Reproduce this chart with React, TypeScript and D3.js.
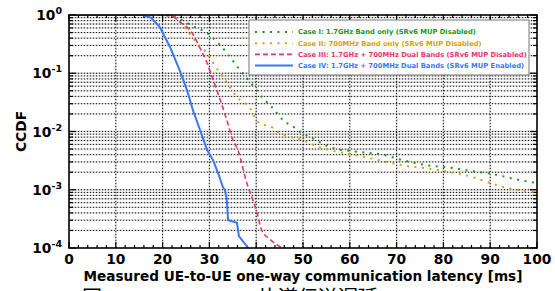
import * as React from "react";
import * as d3 from "d3";

// CCDF of one-way latency
const caseI_ms = [0, 20, 22.5, 24.8, 26.9, 29.5, 31.9, 33.8, 36.5, 38.3, 39.7, 41.5, 43.4, 45.7, 48.3, 49.8, 51.5, 56, 61.5, 67, 71.4, 77, 81.4, 85.7, 90, 95.7, 100];
const caseI_p = [1, 1, 0.95, 0.76, 0.62, 0.49, 0.33, 0.22, 0.114, 0.077, 0.056, 0.037, 0.026, 0.0158, 0.0115, 0.0094, 0.0081, 0.0053, 0.0045, 0.004, 0.0032, 0.0026, 0.0024, 0.0021, 0.0019, 0.0015, 0.0013];

const caseII_ms = [0, 20, 22.5, 24.8, 26.3, 27.3, 29.5, 30.8, 33.8, 35.9, 38.7, 40.4, 43.6, 45, 50, 53.4, 58.5, 63.6, 67.1, 72.9, 77.1, 81.4, 85.7, 90, 94.2, 98.5, 100];
const caseII_p = [1, 1, 0.92, 0.6, 0.42, 0.33, 0.22, 0.15, 0.068, 0.039, 0.025, 0.0145, 0.0115, 0.0094, 0.0071, 0.0054, 0.0043, 0.0036, 0.0031, 0.0025, 0.0023, 0.002, 0.0017, 0.0013, 0.00105, 0.00092, 0.00088];

const caseIII_ms = [0, 20, 22, 23.7, 26.3, 28, 29.5, 30.8, 32.3, 33.7, 35, 36.1, 38, 39.3, 40, 41.2, 43, 45.5];
const caseIII_p = [1, 1, 0.95, 0.76, 0.49, 0.27, 0.15, 0.077, 0.035, 0.016, 0.0072, 0.0048, 0.0013, 0.00066, 0.00045, 0.0002, 0.00014, 0.0001];

const caseIV_ms = [0, 15.8, 17.5, 19.4, 21.6, 23.7, 25.2, 26.5, 28, 29.5, 30.8, 31.9, 32.9, 33.3, 33.7, 34, 35.9, 36.3, 38.3];
const caseIV_p = [1, 1, 0.9, 0.62, 0.28, 0.11, 0.052, 0.023, 0.0106, 0.0048, 0.0032, 0.0019, 0.0011, 0.001, 0.0007, 0.0003, 0.00027, 0.00016, 0.0001];

const seriesNames = [
  "Case I: 1.7GHz Band only (SRv6 MUP Disabled)",
  "Case II: 700MHz Band only (SRv6 MUP Disabled)",
  "Case III: 1.7GHz + 700MHz Dual Bands (SRv6 MUP Disabled)",
  "Case IV: 1.7GHz + 700MHz Dual Bands (SRv6 MUP Enabled)",
];

const xTicks = [0, 10, 20, 30, 40, 50, 60, 70, 80, 90, 100];
const yExponents = [0, -1, -2, -3, -4];

const W = 555;
const H = 291;
const margin = { top: 15, right: 18, bottom: 43, left: 69 };
const FONT = "'DejaVu Sans', Verdana, sans-serif";

export default function App() {
  const x = d3.scaleLinear().domain([0, 100]).range([margin.left, W - margin.right]);
  const y = d3.scaleLog().domain([1e-4, 1]).range([H - margin.bottom, margin.top]);
  const x0 = x(0), x1 = x(100), y0 = y(1e-4), y1 = y(1);

  const styles = [
    { color: "#1e961e", width: 2, dash: "2,5.5" },
    { color: "#d4a20c", width: 2, dash: "2,5.5" },
    { color: "#e8336d", width: 1.6, dash: "5,3" },
    { color: "#3a78f2", width: 2, dash: "none" },
  ];

  const series = [
    { ms: caseI_ms, p: caseI_p, curve: d3.curveMonotoneX },
    { ms: caseII_ms, p: caseII_p, curve: d3.curveMonotoneX },
    { ms: caseIII_ms, p: caseIII_p, curve: d3.curveMonotoneX },
    { ms: caseIV_ms, p: caseIV_p, curve: d3.curveLinear },
  ];

  const paths = series.map((s) =>
    d3
      .line<number>()
      .x((d) => x(d))
      .y((_, i) => y(s.p[i]))
      .curve(s.curve)(s.ms) || ""
  );

  // log minor positions
  const hLines: number[] = [];
  const yMinor: number[] = [];
  for (let e = -4; e < 0; e++) {
    for (let k = 1; k <= 9; k++) {
      const v = k * Math.pow(10, e);
      if (k === 1 && e === -4) continue;
      hLines.push(v);
      if (k > 1) yMinor.push(v);
    }
  }
  const xMinor = d3.range(2, 100, 2).filter((v) => v % 10 !== 0);
  const vLines = xTicks.slice(1, -1);

  const legX = 249, legY = 20, legW = 280, legH = 55;

  return (
    <svg width={W} height={H} style={{ position: "absolute", left: 0, top: 0, background: "#fff" }}>
      <defs>
        <clipPath id="plot">
          <rect x={x0} y={y1} width={x1 - x0} height={y0 - y1} />
        </clipPath>
      </defs>
      <rect x={0} y={0} width={W} height={H} fill="#fff" />

      {/* grid: light gray solid with black dots on top */}
      <g>
        {vLines.map((v) => (
          <line key={"vg" + v} x1={x(v)} x2={x(v)} y1={y1} y2={y0} stroke="#c8c8c8" strokeWidth={1.3} />
        ))}
        {hLines.map((v) => (
          <line key={"hg" + v} x1={x0} x2={x1} y1={y(v)} y2={y(v)} stroke="#c8c8c8" strokeWidth={1.3} />
        ))}
        {vLines.map((v) => (
          <line key={"vd" + v} x1={x(v)} x2={x(v)} y1={y1} y2={y0} stroke="#000" strokeWidth={0.9} strokeDasharray="1,2" />
        ))}
        {hLines.map((v) => (
          <line key={"hd" + v} x1={x0} x2={x1} y1={y(v)} y2={y(v)} stroke="#000" strokeWidth={0.9} strokeDasharray="1,2" />
        ))}
      </g>

      {/* ticks */}
      <g stroke="#000" strokeWidth={1.2}>
        {xTicks.map((v) => (
          <g key={"xt" + v}>
            <line x1={x(v)} x2={x(v)} y1={y0} y2={y0 - 6} />
            <line x1={x(v)} x2={x(v)} y1={y1} y2={y1 + 6} />
          </g>
        ))}
        {xMinor.map((v) => (
          <g key={"xm" + v}>
            <line x1={x(v)} x2={x(v)} y1={y0} y2={y0 - 3} />
            <line x1={x(v)} x2={x(v)} y1={y1} y2={y1 + 3} />
          </g>
        ))}
        {yMinor.map((v) => (
          <g key={"ym" + v}>
            <line x1={x0} x2={x0 + 4} y1={y(v)} y2={y(v)} />
            <line x1={x1} x2={x1 - 4} y1={y(v)} y2={y(v)} />
          </g>
        ))}
        {yExponents.map((e) => (
          <g key={"yt" + e}>
            <line x1={x0} x2={x0 + 7} y1={y(Math.pow(10, e))} y2={y(Math.pow(10, e))} />
            <line x1={x1} x2={x1 - 7} y1={y(Math.pow(10, e))} y2={y(Math.pow(10, e))} />
          </g>
        ))}
      </g>

      {/* curves */}
      <g clipPath="url(#plot)">
        {paths.map((d, i) => (
          <path
            key={"s" + i}
            d={d}
            fill="none"
            stroke={styles[i].color}
            strokeWidth={styles[i].width}
            strokeDasharray={styles[i].dash}
          />
        ))}
      </g>

      {/* frame */}
      <rect x={x0} y={y1} width={x1 - x0} height={y0 - y1} fill="none" stroke="#000" strokeWidth={1.6} />

      {/* legend */}
      <rect x={legX} y={legY} width={legW} height={legH} fill="#fff" stroke="#777" strokeWidth={1} />
      {seriesNames.map((name, i) => {
        const ly = legY + 12 + i * 11.2;
        return (
          <g key={"lg" + i}>
            <line
              x1={legX + 6}
              x2={legX + 44}
              y1={ly}
              y2={ly}
              stroke={styles[i].color}
              strokeWidth={styles[i].width}
              strokeDasharray={styles[i].dash}
            />
            <text x={legX + 49} y={ly + 2.4} fontFamily={FONT} fontWeight="bold" fontSize={6.75} fill={styles[i].color}>
              {name}
            </text>
          </g>
        );
      })}

      {/* tick labels */}
      <g fontFamily={FONT} fontWeight="bold" fill="#000">
        {xTicks.map((v) => (
          <text key={"xl" + v} x={x(v)} y={y0 + 15.5} textAnchor="middle" fontSize={13.8}>
            {v}
          </text>
        ))}
        {yExponents.map((e) => (
          <text key={"yl" + e} x={x0 - 7} y={y(Math.pow(10, e)) + 5} textAnchor="end" fontSize={13.8}>
            10
            <tspan fontSize={9.5} dy={-6}>
              {e}
            </tspan>
          </text>
        ))}
        <text
          transform={`translate(${26},${(y0 + y1) / 2}) rotate(-90)`}
          textAnchor="middle"
          fontSize={13.8}
        >
          CCDF
        </text>
        <text x={(x0 + x1) / 2} y={281} textAnchor="middle" fontSize={13.6}>
          Measured UE-to-UE one-way communication latency [ms]
        </text>
      </g>

      {/* caption cut off at the bottom edge, as in the source */}
      <g fontFamily="'Noto Sans CJK JP', sans-serif" fontSize={20} fill="#000">
        <text x={82} y={305}>図</text>
        <text x={258} y={305}>片道伝送遅延</text>
      </g>
    </svg>
  );
}
